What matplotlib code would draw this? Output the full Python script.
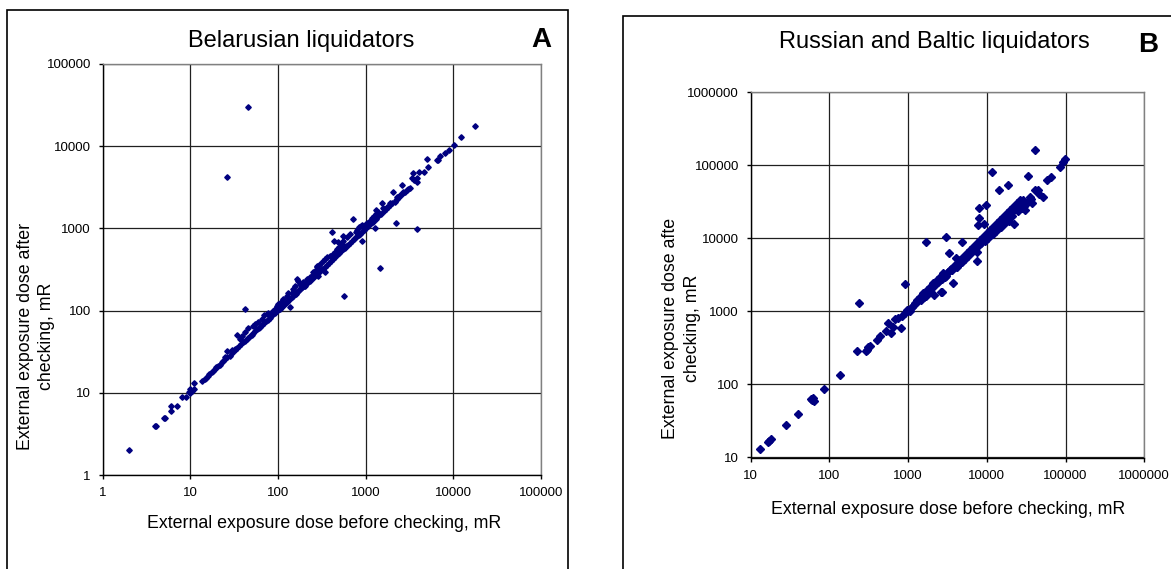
import matplotlib
matplotlib.use("Agg")
import matplotlib.pyplot as plt
from matplotlib.patches import Rectangle
from matplotlib.ticker import FixedLocator, NullLocator

plt.rcParams['font.family'] = ['Liberation Sans', 'DejaVu Sans']

# Belarusian liquidators: dose before / after checking, mR
a_before = [2, 4, 4.1, 5, 5.1, 6, 6, 7, 8, 9, 9.6, 10, 10, 10.5, 11, 11,
            13.6, 14.7, 15, 16.1, 16.5, 17.5, 18, 19.1, 19.5, 20.9, 21.5, 22.8, 23.5, 24.9, 25, 26, 26.5, 28,
            29.6, 30, 32.4, 32, 33.8, 34, 36, 36.9, 38.5, 38, 40, 42.1, 42, 44, 45.9, 46, 48, 50, 52.3, 52,
            54.7, 55, 58, 59.7, 60, 63, 65.2, 66, 69.9, 70, 73, 74.3, 76, 77.6, 80, 84.7, 84, 88.5, 88, 92.5,
            92, 96, 97, 100, 101, 105, 108, 110, 115, 115, 120, 126, 125, 130, 131, 135, 137, 143, 145, 150,
            140, 150, 155, 156, 160, 163, 165, 171, 170, 175, 178, 180, 185, 186, 190, 195, 203, 200, 210,
            212, 220, 230, 232, 240, 242, 250, 253, 260, 264, 270, 276, 281, 280, 288, 290, 297, 300, 301,
            320, 329, 344, 340, 347, 359, 360, 380, 392, 400, 410, 428, 420, 440, 447, 450, 467, 480, 488,
            501, 500, 520, 532, 546, 550, 556, 573, 580, 607, 600, 630, 662, 660, 700, 722, 730, 770, 760,
            805, 800, 842, 830, 880, 860, 902, 918, 900, 960, 950, 1003, 1000, 1047, 1050, 1094, 1100, 1143,
            1150, 1194, 1200, 1247, 1290, 1303, 1300, 1361, 1400, 1400, 1460, 1310, 1280, 1520, 1500, 1590,
            1600, 1740, 1700, 1800, 1900, 1900, 2000, 2070, 2160, 2200, 2260, 2200, 2300, 2470, 2400, 2580,
            2690, 2600, 2800, 2940, 3000, 3200, 3350, 3440, 3590, 3820, 3890, 3900, 4090, 4670, 5050, 5180,
            6560, 6600, 7040, 8030, 9000, 10300, 12200, 17700, 26, 46, 42.5]
a_after = [2, 4, 4, 5, 5, 6, 7, 7, 9, 9, 10.3, 11, 10, 10.5, 13, 11,
           14, 14.7, 15.3, 16.1, 17, 17.7, 18.5, 19.4, 20.5, 21.3, 22, 23.4, 24.5, 27, 25.5, 32.5, 27, 28,
           33.4, 30.5, 34, 33, 50.3, 35, 37, 45, 49.4, 39, 41, 54.2, 43, 45, 60.6, 47, 49, 51, 65.3, 53,
           68.5, 56, 59, 71.8, 61, 64, 78.7, 67, 88, 71, 74, 90.6, 77, 93, 81, 96.7, 86, 99.5, 90, 104,
           93, 98, 115, 101, 120, 106, 128, 111, 138, 116, 121, 152, 126, 132, 166, 137, 112, 166, 147, 183,
           141, 150, 157, 200, 161, 242, 167, 231, 171, 178, 210, 182, 190, 191, 192, 220, 200, 202, 212,
           242, 222, 232, 254, 242, 266, 252, 292, 262, 306, 272, 352, 336, 282, 266, 292, 300, 302, 368,
           322, 405, 424, 342, 297, 445, 362, 383, 465, 405, 912, 488, 425, 705, 511, 455, 561, 485, 692,
           588, 505, 525, 645, 809, 555, 708, 151, 585, 776, 605, 635, 853, 665, 705, 1290, 735, 912, 765,
           955, 805, 1047, 835, 1067, 865, 711, 1097, 905, 1047, 955, 1130, 1000, 1150, 1055, 1205, 1105, 1264,
           1155, 1324, 1205, 1414, 1000, 1494, 1305, 1552, 1600, 1405, 333, 1680, 1390, 2020, 1505, 1750,
           1610, 1840, 1710, 1810, 2020, 1910, 2010, 2800, 2110, 1175, 2430, 2210, 2310, 2550, 2410, 3370,
           2800, 2610, 2810, 2930, 3010, 3080, 4070, 4760, 3880, 4070, 3700, 990, 4900, 4900, 7050, 5540,
           6800, 6700, 7650, 8200, 9000, 10400, 12800, 17600, 4200, 29600, 104]

# Russian and Baltic liquidators: dose before / after checking, mR
b_before = [13, 16.5, 17, 18, 28, 40, 58, 62, 64, 60, 86, 136, 226, 235, 292, 300, 312, 327, 398, 440,
            524, 561, 606, 649, 681, 751, 820, 829, 914, 914, 1007, 1050, 980, 1110, 1150, 1222, 1285, 1300,
            1416, 1450, 1560, 1600, 1690, 1700, 1722, 1780, 1897, 1950, 2000, 2091, 2150, 2200, 2307, 2400,
            2500, 2541, 2610, 2670, 2700, 2800, 2900, 3000, 3060, 3090, 3200, 3310, 3404, 3500, 3600, 3750,
            3750, 3900, 4060, 4140, 4200, 4300, 4500, 4560, 4790, 4800, 5010, 5200, 5500, 5550, 5800, 6000,
            6110, 6400, 6730, 6800, 7000, 7430, 7430, 7590, 7800, 7900, 7900, 8000, 8180, 8500, 9000, 9020,
            9180, 9400, 9660, 9950, 10200, 10960, 11000, 11500, 11800, 12080, 12500, 13000, 13330, 14000,
            14200, 14690, 15000, 16000, 16190, 17000, 17850, 18000, 18600, 19000, 19680, 20000, 21000, 21680,
            22000, 23930, 24000, 25000, 26370, 27000, 28000, 29040, 30000, 30800, 32060, 33000, 33300, 35320,
            36000, 37100, 40900, 41200, 45100, 46500, 52100, 57500, 64600, 84900, 91800, 98200]
b_after = [13, 16.4, 17, 18, 28, 40, 63, 66, 59, 61, 88, 136, 290, 1310, 290, 300, 323, 337, 406, 461,
           546, 703, 502, 619, 782, 807, 590, 869, 946, 2370, 1028, 1000, 1050, 1160, 1200, 1290, 1430, 1350,
           1590, 1430, 1770, 1590, 9000, 1650, 1960, 1770, 2180, 2000, 2200, 2430, 1660, 2300, 2690, 2500,
           2600, 2990, 1860, 1830, 2800, 3320, 3000, 3100, 10500, 3320, 3500, 6240, 3690, 3800, 3700, 2430,
           4100, 4000, 5380, 4550, 4000, 4300, 4700, 5060, 9020, 4800, 5620, 5300, 5700, 6240, 5800, 6200,
           6930, 6500, 7700, 7000, 7100, 6580, 8550, 4900, 15200, 19200, 26300, 8200, 9500, 8600, 9800, 10500,
           15700, 9300, 28300, 11700, 10000, 13000, 11000, 82000, 11500, 14500, 13500, 12800, 16100, 14000,
           45900, 17900, 14500, 16500, 19800, 16000, 22000, 18000, 53800, 17500, 24500, 22000, 20000, 27200,
           15500, 30200, 26000, 24000, 33500, 30000, 26000, 33500, 28000, 24500, 30200, 33000, 71500, 37200,
           35000, 30900, 45900, 160000, 45900, 40100, 37200, 63000, 70000, 95900, 112000, 121000]

a_ticks = [1, 10, 100, 1000, 10000, 100000]
b_ticks = [10, 100, 1000, 10000, 100000, 1000000]

W, H = 1171, 569
fig = plt.figure(figsize=(W / 100, H / 100), dpi=100)


def px(x0, y0, x1, y1):
    # pixel box (left, top, right, bottom) -> figure fraction rect
    return [x0 / W, 1 - y1 / H, (x1 - x0) / W, (y1 - y0) / H]


def setup(ax, ticks):
    ax.set_xscale('log')
    ax.set_yscale('log')
    ax.set_xlim(ticks[0], ticks[-1])
    ax.set_ylim(ticks[0], ticks[-1])
    for axis in (ax.xaxis, ax.yaxis):
        axis.set_major_locator(FixedLocator(ticks))
        axis.set_minor_locator(NullLocator())
    labels = [str(t) for t in ticks]
    ax.set_xticklabels(labels)
    ax.set_yticklabels(labels)
    ax.grid(True, color='#202020', lw=0.9)
    ax.set_axisbelow(True)
    ax.spines['left'].set_color('black')
    ax.spines['bottom'].set_color('black')
    ax.spines['top'].set_color('#808080')
    ax.spines['right'].set_color('#808080')
    for s in ax.spines.values():
        s.set_linewidth(1.0)
    ax.tick_params(axis='x', direction='out', length=3, width=1, pad=6, labelsize=9.5)
    ax.tick_params(axis='y', direction='out', length=3, width=1, pad=5.5, labelsize=9.5)


# outer frames around each panel
fig.patches.append(Rectangle((7 / W, -0.05), (567.5 - 7) / W, 1.05 - 10 / H,
                             transform=fig.transFigure, fill=False, ec='black', lw=1.2))
fig.patches.append(Rectangle((622.6 / W, -0.05), 0.5, 1.05 - 15.6 / H,
                             transform=fig.transFigure, fill=False, ec='black', lw=1.2))

ax1 = fig.add_axes(px(102.7, 64, 541, 475))
setup(ax1, a_ticks)
ax1.plot(a_before, a_after, ls='none', marker='D', ms=2.8, color='#000080')

ax2 = fig.add_axes(px(750.7, 92.3, 1144.3, 457.5))
setup(ax2, b_ticks)
ax2.plot(b_before, b_after, ls='none', marker='D', ms=3.8, color='#000080')

fig.text(300.7 / W, 1 - 40.5 / H, 'Belarusian liquidators', fontsize=17, ha='center', va='center')
fig.text(541 / W, 1 - 40 / H, 'A', fontsize=20, fontweight='bold', ha='center', va='center')
fig.text(934.8 / W, 1 - 41.8 / H, 'Russian and Baltic liquidators', fontsize=17, ha='center', va='center')
fig.text(1148 / W, 1 - 45.5 / H, 'B', fontsize=20, fontweight='bold', ha='center', va='center')

fig.text(36 / W, 1 - 336 / H, 'External exposure dose after\nchecking, mR', fontsize=12.8,
         rotation=90, ha='center', va='center', multialignment='center', linespacing=1.35)
fig.text(681.6 / W, 1 - 328 / H, 'External exposure dose afte\nchecking, mR', fontsize=12.8,
         rotation=90, ha='center', va='center', multialignment='center', linespacing=1.35)
fig.text(324 / W, 1 - 523 / H, 'External exposure dose before checking, mR', fontsize=12.8,
         ha='center', va='center')
fig.text(948 / W, 1 - 509 / H, 'External exposure dose before checking, mR', fontsize=12.8,
         ha='center', va='center')

fig.savefig('out.png', dpi=100)
